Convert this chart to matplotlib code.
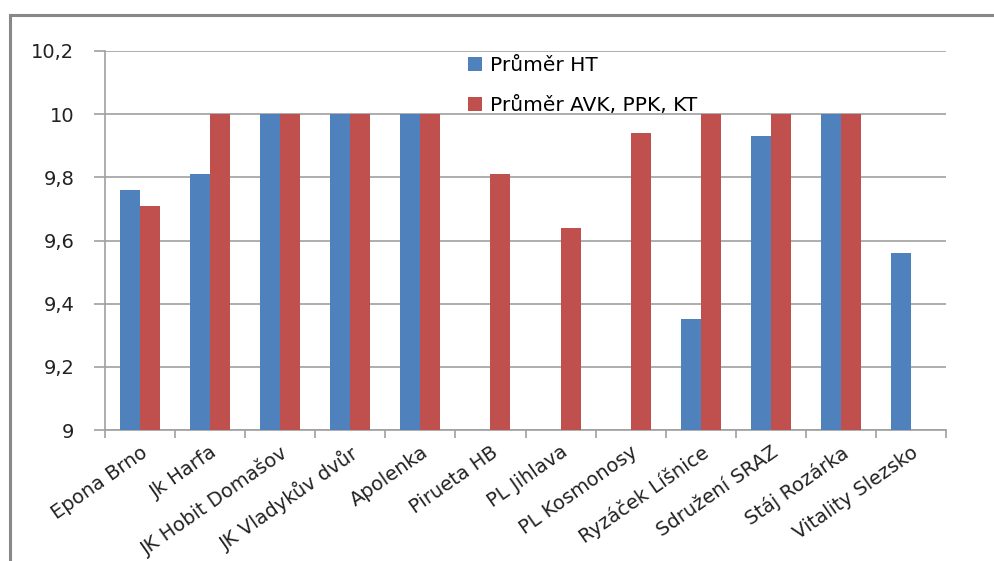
import matplotlib
matplotlib.use("Agg")
import matplotlib.pyplot as plt
import numpy as np

categories = ["Epona Brno", "Jk Harfa", "JK Hobit Domašov", "JK Vladykův dvůr",
              "Apolenka", "Pirueta HB", "PL Jihlava", "PL Kosmonosy",
              "Ryzáček Líšnice", "Sdružení SRAZ", "Stáj Rozárka", "Vitality Slezsko"]
prumer_ht = [9.76, 9.81, 10.0, 10.0, 10.0, np.nan, np.nan, np.nan, 9.35, 9.93, 10.0, 9.56]
prumer_avk = [9.71, 10.0, 10.0, 10.0, 10.0, 9.81, 9.64, 9.94, 10.0, 10.0, 10.0, np.nan]
yticks = [9, 9.2, 9.4, 9.6, 9.8, 10, 10.2]
ytick_labels = ["9", "9,2", "9,4", "9,6", "9,8", "10", "10,2"]

plt.rcParams['font.family'] = ['DejaVu Sans']
fig = plt.figure(figsize=(9.94, 5.61), dpi=100)
W, H = 994, 561
# outer frame
frame = plt.Rectangle((10 / W, -0.05), 1.2, (561 - 15) / H + 0.05, transform=fig.transFigure,
                      fill=False, edgecolor="#888888", linewidth=2.2)
fig.patches.append(frame)

ax = fig.add_axes([105 / W, (561 - 430) / H, (946 - 105) / W, (430 - 51) / H])
x = np.arange(len(categories))
bw = 0.285
blue = "#4F81BD"
red = "#C0504D"
ax.bar(x - bw / 2, prumer_ht, bw, color=blue, label="Průměr HT", zorder=3)
ax.bar(x + bw / 2, prumer_avk, bw, color=red, label="Průměr AVK, PPK, KT", zorder=3)

ax.set_ylim(9, 10.2)
ax.set_xlim(-0.5, len(categories) - 0.5)
ax.set_yticks(yticks)
ax.set_yticklabels(ytick_labels, fontsize=14, color="#222222")
ax.yaxis.grid(True, color="#A0A0A0", linewidth=1.2, zorder=0)
ax.set_axisbelow(True)

ax.set_xticks(x)
ax.set_xticklabels(categories, rotation=35, ha="right", rotation_mode="anchor",
                   fontsize=14, color="#222222")
ax.tick_params(axis="x", length=0, pad=9)
ax.set_xticks(np.arange(-0.5, len(categories), 1), minor=True)
ax.tick_params(axis="x", which="minor", length=6, color="#A0A0A0", width=1.2)
ax.tick_params(axis="y", length=8, color="#A0A0A0", width=1.2, pad=14)

for s in ["top", "right"]:
    ax.spines[s].set_visible(False)
for s in ["left", "bottom"]:
    ax.spines[s].set_color("#A0A0A0")
    ax.spines[s].set_linewidth(1.2)

ax.legend(loc="upper left", bbox_to_anchor=(0.41, 1.035), frameon=False, fontsize=14.5,
          handlelength=0.7, handleheight=0.7, labelspacing=1.05, handletextpad=0.4)

fig.savefig("out.png", dpi=100)
